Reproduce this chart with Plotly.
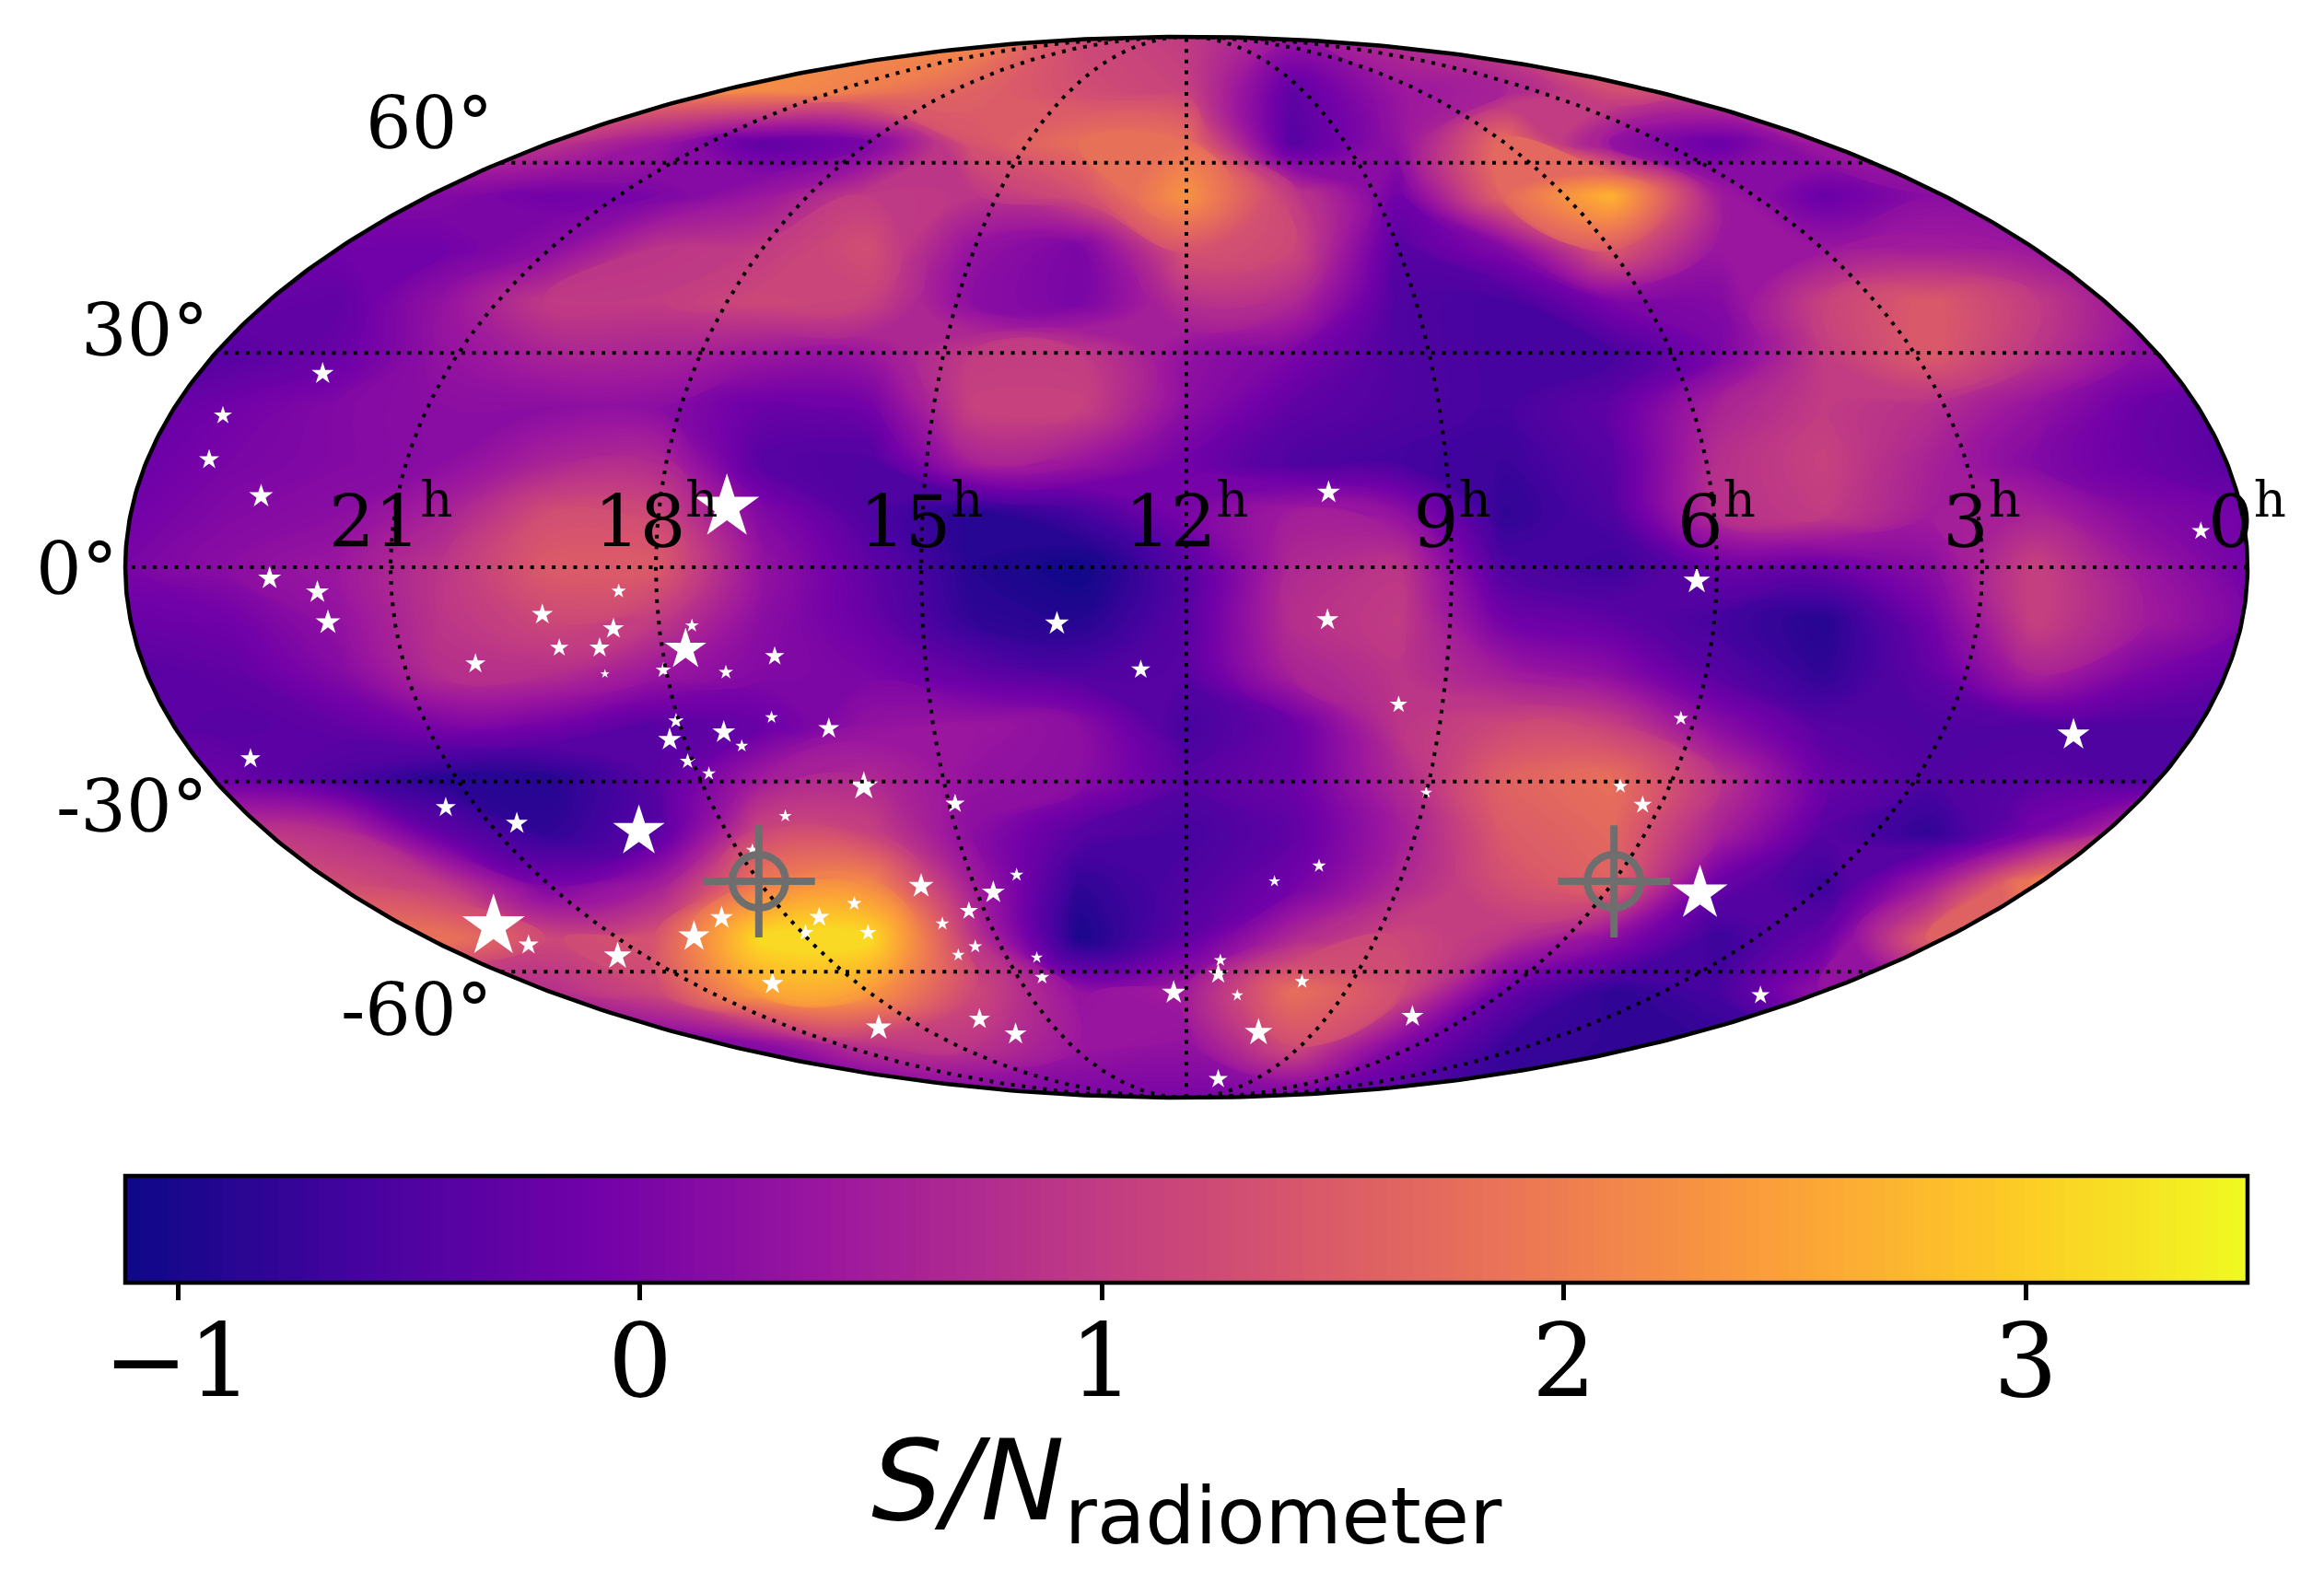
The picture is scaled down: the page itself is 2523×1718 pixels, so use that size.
import numpy as np
import plotly.graph_objects as go

# map values on the Mollweide plane (x/y run -1..1 over the ellipse)
grid_x = [-1.0, -0.9, -0.8, -0.7, -0.6, -0.5, -0.4, -0.3, -0.2, -0.1, 0.0,
          0.1, 0.2, 0.3, 0.4, 0.5, 0.6, 0.7, 0.8, 0.9, 1.0]
grid_y = [1.0, 0.9, 0.8, 0.7, 0.6, 0.5, 0.4, 0.3, 0.2, 0.1, 0.0,
          -0.1, -0.2, -0.3, -0.4, -0.5, -0.6, -0.7, -0.8, -0.9, -1.0]

row_p10 = [1.5, 1.5, 1.5, 1.5, 1.5, 1.5, 2.2, 2.2, 2.2, 1.2, 1.0, 0.4, 0.8, 1.2, 1.5, 1.5, 1.5, 1.5, 1.5, 1.5, 1.5]
row_p09 = [2.0, 2.0, 2.0, 2.0, 2.0, 2.1, 2.2, 2.0, 1.6, 1.3, 1.1, -0.3, 0.4, 0.6, 1.3, 1.2, 1.6, 1.6, 1.6, 1.6, 1.6]
row_p08 = [0.9, 0.9, 0.9, 0.9, 0.9, 0.4, -0.3, 0.0, 1.4, 1.8, 1.8, -0.4, 0.3, 1.8, 0.3, -0.2, 0.5, 0.5, 0.5, 0.5, 0.5]
row_p07 = [0.1, 0.1, 0.1, 0.1, -0.1, 0.0, 0.4, 1.0, 0.9, 1.3, 2.3, 1.0, -0.1, 1.7, 2.7, 0.5, -0.2, 0.2, 0.2, 0.2, 0.2]
row_p06 = [-0.1, -0.1, -0.1, -0.1, 0.2, 0.9, 1.0, 1.3, 0.3, 0.0, 1.4, 1.2, -0.4, 0.1, 1.5, 0.4, 0.4, 0.5, 0.4, 0.4, 0.4]
row_p05 = [-0.2, -0.2, -0.3, 0.3, 1.0, 1.0, 1.2, 1.1, 0.2, 0.0, 0.8, 0.7, -0.5, -0.6, 0.0, 0.1, 1.1, 1.5, 1.0, 0.3, 0.3]
row_p04 = [-0.4, -0.4, -0.2, 0.3, 0.6, 0.6, 0.4, 0.4, 1.0, 1.0, 0.3, 0.0, -0.5, -0.6, -0.6, 0.0, 1.0, 1.5, 0.9, 0.2, 0.1]
row_p03 = [-0.3, -0.1, 0.1, 0.2, 0.2, 0.2, -0.2, -0.1, 1.1, 1.1, 0.2, -0.3, -0.5, -0.6, -0.3, 0.6, 1.0, 0.8, 0.3, -0.2, -0.4]
row_p02 = [-0.2, 0.0, 0.1, 0.2, 0.6, 0.7, -0.4, -0.5, 0.6, 0.4, -0.1, -0.5, -0.6, -0.7, -0.4, 0.8, 1.1, 0.6, 0.1, -0.2, -0.4]
row_p01 = [-0.1, 0.1, 0.2, 0.6, 1.3, 1.2, 0.1, -0.5, -0.9, -0.6, 0.0, 0.5, 0.3, -0.8, -0.5, 0.8, 1.0, 0.5, 0.6, 0.1, -0.1]
row_000 = [0.0, 0.2, 0.4, 0.9, 1.5, 1.5, 0.3, -0.3, -0.9, -1.1, -0.4, 0.7, 0.9, -0.5, -0.7, -0.2, -0.2, 0.2, 1.1, 0.4, -0.1]
row_m01 = [-0.2, -0.1, 0.3, 0.9, 1.2, 1.0, 0.2, -0.2, -0.8, -0.9, -0.4, 0.8, 1.0, -0.1, -0.3, -0.6, -0.9, -0.1, 1.1, 0.5, 0.0]
row_m02 = [-0.4, -0.3, 0.1, 0.8, 0.8, 0.4, 0.1, 0.0, -0.3, -0.5, -0.4, 0.6, 0.9, 0.5, 0.2, -0.4, -0.8, -0.3, 0.6, 0.0, -0.3]
row_m03 = [-0.3, -0.4, -0.3, 0.0, -0.1, -0.4, -0.2, 0.3, 0.4, 0.2, -0.6, -0.2, 0.9, 1.2, 1.1, 0.2, -0.4, -0.5, -0.5, -0.5, -0.5]
row_m04 = [-0.2, -0.2, -0.5, -0.9, -0.9, -0.4, 0.5, 0.7, 0.3, 0.2, -0.4, -0.2, 0.7, 1.6, 1.8, 0.9, -0.2, -0.5, -0.4, -0.5, -0.5]
row_m05 = [1.0, 1.0, 0.8, -0.3, -0.8, -0.4, 1.2, 1.1, 0.2, -0.4, -0.6, -0.3, 0.5, 1.5, 1.7, 0.6, -0.4, -0.8, 0.0, 0.9, 1.0]
row_m06 = [1.3, 1.3, 1.3, 1.0, 0.0, 0.5, 2.0, 2.2, 0.5, -0.8, -0.5, -0.1, 0.7, 1.3, 1.6, -0.2, -0.7, 0.5, 2.1, 2.1, 2.1]
row_m07 = [1.9, 1.9, 1.9, 1.9, 1.2, 1.4, 3.2, 3.2, 0.9, -1.0, -0.3, 0.7, 1.2, 0.9, 0.2, -0.7, -0.2, 1.6, 1.6, 1.6, 1.6]
row_m08 = [0.7, 0.7, 0.7, 0.7, 0.8, 1.2, 2.5, 2.4, 1.2, 0.3, 0.5, 1.8, 1.3, -0.2, -0.8, -0.6, 0.3, 0.3, 0.3, 0.3, 0.3]
row_m09 = [0.0, 0.0, 0.0, 0.0, 0.0, 0.0, 0.2, 0.9, 0.9, 0.4, 0.3, 1.3, 0.1, -0.7, -0.8, -0.8, -0.8, -0.8, -0.8, -0.8, -0.8]
row_m10 = [-0.6, -0.6, -0.6, -0.6, -0.6, -0.6, -0.6, -0.3, 0.0, 0.0, 0.0, -0.1, -0.5, -0.8, -0.8, -0.8, -0.8, -0.8, -0.8, -0.8, -0.8]

# white stars, position on the Mollweide plane and width
star_x = [-0.814, -0.908, -0.921, -0.872, -0.433, 0.134, 0.956, 0.481, -0.864, -0.819, -0.809, -0.535,
          -0.607, -0.540, -0.466, -0.472, -0.591, -0.553, -0.670, -0.388, -0.493, -0.434, -0.548, -0.122,
          -0.043, -0.391, -0.337, -0.481, -0.487, -0.436, -0.419, -0.470, -0.450, -0.304, -0.218, -0.882,
          -0.698, -0.631, -0.516, -0.378, -0.409, -0.250, -0.160, -0.182, -0.205, -0.230, -0.313, -0.346,
          -0.300, -0.359, -0.438, -0.464, -0.653, -0.620, -0.536, -0.199, -0.215, -0.141, -0.136, -0.390,
          -0.195, -0.290, -0.161, -0.012, 0.133, 0.200, 0.466, 0.836, 0.226, 0.409, 0.430, 0.125,
          0.083, 0.484, 0.032, 0.030, 0.109, 0.048, 0.213, 0.068, 0.541, 0.030]
star_y = [0.365, 0.286, 0.203, 0.134, 0.113, 0.141, 0.068, -0.026, -0.021, -0.047, -0.104, -0.045,
          -0.089, -0.116, -0.110, -0.155, -0.152, -0.152, -0.182, -0.168, -0.194, -0.198, -0.201, -0.106,
          -0.193, -0.283, -0.304, -0.290, -0.325, -0.311, -0.337, -0.366, -0.389, -0.413, -0.446, -0.361,
          -0.453, -0.483, -0.498, -0.469, -0.533, -0.601, -0.580, -0.613, -0.648, -0.672, -0.634, -0.660,
          -0.689, -0.689, -0.661, -0.696, -0.677, -0.712, -0.733, -0.715, -0.731, -0.736, -0.773, -0.785,
          -0.852, -0.868, -0.880, -0.802, -0.099, -0.259, -0.285, -0.316, -0.425, -0.413, -0.448, -0.563,
          -0.592, -0.615, -0.741, -0.767, -0.781, -0.807, -0.847, -0.877, -0.807, -0.965]
star_w = [24, 20, 22, 26, 70, 25, 20, 29, 25, 25, 27, 16,
          23, 23, 15, 45, 20, 22, 22, 21, 17, 16, 10, 26,
          21, 14, 23, 17, 25, 25, 14, 17, 15, 31, 21, 22,
          22, 24, 56, 14, 14, 27, 15, 25, 20, 15, 16, 22,
          18, 18, 25, 34, 68, 22, 30, 15, 14, 13, 16, 24,
          23, 28, 24, 26, 24, 19, 16, 35, 13, 16, 20, 15,
          13, 60, 14, 22, 16, 13, 24, 30, 20, 21]

# the two crosshair targets
target_ra = [18, 6]
target_dec = [-45, -45]

ra_ticks = [21, 18, 15, 12, 9, 6, 3, 0]
dec_ticks = [60, 30, 0, -30, -60]
dec_shift = [43, 24, -2, -27, -42]
cbar_ticks = [-1, 0, 1, 2, 3]

z_min, z_max = -1.114, 3.48


def mollweide(ra_h, dec_deg):
    # RA runs backwards: 0h on the right, 24h on the left
    lon = np.radians(180.0 - np.asarray(ra_h, dtype=float) * 15.0)
    lat = np.radians(np.asarray(dec_deg, dtype=float))
    theta = lat.copy()
    for _ in range(60):
        num = 2 * theta + np.sin(2 * theta) - np.pi * np.sin(lat)
        den = 2 + 2 * np.cos(2 * theta)
        theta = theta - num / np.maximum(den, 1e-6)
    return lon / np.pi * np.cos(theta), np.sin(theta)


fig = go.Figure()

fig.add_trace(go.Contour(
    x=grid_x, y=grid_y,
    z=[row_p10, row_p09, row_p08, row_p07, row_p06, row_p05, row_p04, row_p03, row_p02, row_p01, row_000,
       row_m01, row_m02, row_m03, row_m04, row_m05, row_m06, row_m07, row_m08, row_m09, row_m10],
    zmin=z_min, zmax=z_max, colorscale='Plasma', hoverinfo='skip', autocontour=False,
    contours=dict(coloring='fill', showlines=False, start=z_min, end=z_max, size=0.03),
    line=dict(width=0, smoothing=1.3),
    colorbar=dict(
        orientation='h', x=1288 / 2523, xanchor='center', y=1 - 1277 / 1718, yanchor='top',
        len=2304 / 2523, lenmode='fraction', thickness=116, thicknessmode='pixels',
        xpad=0, ypad=0, outlinewidth=4.5, outlinecolor='black',
        tickmode='array', tickvals=cbar_ticks, ticks='outside', ticklen=17, tickwidth=4.5,
        tickcolor='black', showticklabels=False,
    ),
))

# white cover for everything outside the ellipse, drawn as one polygon with a seam
t = np.linspace(-np.pi, np.pi, 721)
edge_x, edge_y = np.cos(t), np.sin(t)
mask_x = [-1.1, -1.1, 1.1, 1.1, -1.1, -1.1] + list(edge_x) + [-1.1]
mask_y = [0, 1.1, 1.1, -1.1, -1.1, 0] + list(edge_y) + [0]
fig.add_trace(go.Scatter(x=mask_x, y=mask_y, mode='lines', fill='toself', fillcolor='white',
                         line=dict(width=0), hoverinfo='skip'))

fig.add_trace(go.Scatter(
    x=star_x, y=star_y, mode='markers', hoverinfo='skip',
    marker=dict(symbol='star', color='white', opacity=1, line=dict(width=0), size=np.array(star_w) / 1.33),
))

# graticule
line_dec = np.linspace(-90, 90, 361)
for ra in ra_ticks[:-1]:
    gx, gy = mollweide(np.full_like(line_dec, ra), line_dec)
    fig.add_trace(go.Scatter(x=gx, y=gy, mode='lines', hoverinfo='skip',
                             line=dict(color='black', width=4, dash='4px,7.7px')))
line_ra = np.linspace(0, 24, 97)
for dec in dec_ticks:
    gx, gy = mollweide(line_ra, np.full_like(line_ra, dec, dtype=float))
    fig.add_trace(go.Scatter(x=gx, y=gy, mode='lines', hoverinfo='skip',
                             line=dict(color='black', width=4, dash='4px,7.7px')))

tx, ty = mollweide(target_ra, target_dec)
fig.add_trace(go.Scatter(x=tx, y=ty, mode='markers', hoverinfo='skip',
                         marker=dict(symbol='circle-open', size=58, color='#6e6e6e', line=dict(width=8))))
fig.add_trace(go.Scatter(x=tx, y=ty, mode='markers', hoverinfo='skip',
                         marker=dict(symbol='cross-thin-open', size=87, color='#6e6e6e', line=dict(width=8))))

fig.add_trace(go.Scatter(x=edge_x, y=edge_y, mode='lines', hoverinfo='skip',
                         line=dict(color='black', width=4.5)))

label_font = dict(family='DejaVu Serif', size=78, color='black')
for ra in ra_ticks:
    lx, ly = mollweide([ra], [0.0])
    fig.add_annotation(x=float(lx[0]), y=float(ly[0]), text=f'{ra}<sup>h</sup>', showarrow=False,
                       xanchor='center', yanchor='bottom', yshift=2, font=label_font)
for dec, shift in zip(dec_ticks, dec_shift):
    lx, ly = mollweide([0.0], [dec])
    fig.add_annotation(x=float(-abs(lx[0])), y=float(ly[0]), text=f'{dec}°', showarrow=False,
                       xanchor='right', yanchor='middle', xshift=-6, yshift=shift, font=label_font)

for tick in cbar_ticks:
    tick_text = f'\u2212{abs(tick)}' if tick < 0 else str(tick)
    fig.add_annotation(xref='paper', yref='paper', y=1 - 1478 / 1718,
                       x=(136 + (tick - z_min) / (z_max - z_min) * 2304) / 2523,
                       text=tick_text, showarrow=False, xanchor='center', yanchor='middle',
                       font=dict(family='DejaVu Serif', size=110, color='black'))

fig.add_annotation(xref='paper', yref='paper', x=1288 / 2523, y=1 - 1616 / 1718,
                   text='<i>S/N</i><sub>radiometer</sub>', showarrow=False,
                   xanchor='center', yanchor='middle',
                   font=dict(family='DejaVu Sans', size=122, color='black'))

fig.update_xaxes(range=[-1.06, 1.06], domain=[66.9 / 2523, 2509.1 / 2523], visible=False)
fig.update_yaxes(range=[-1.06, 1.06], domain=[1 - 1226.6 / 1718, 1 - 5.4 / 1718], visible=False)
fig.update_layout(width=2523, height=1718, showlegend=False, plot_bgcolor='white', paper_bgcolor='white',
                  margin=dict(l=0, r=0, t=0, b=0))

fig.write_html("out.html", config=dict(displayModeBar=False),
               post_script="document.body.style.margin='0';")
